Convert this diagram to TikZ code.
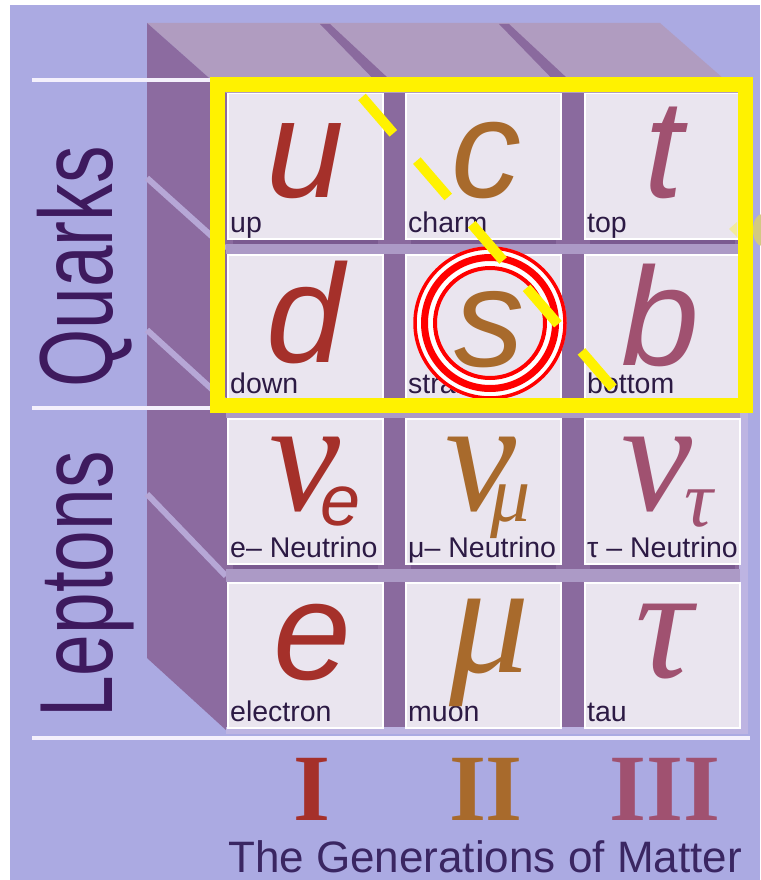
\documentclass[tikz,border=0pt]{standalone}
\usepackage{fontspec}
\setmainfont{Liberation Sans}
\newfontfamily\serifgr{Liberation Serif}
\usepackage{graphicx}
\definecolor{bgl}{HTML}{ABAAE2}
\definecolor{wallc}{HTML}{8C6BA0}
\definecolor{topc}{HTML}{B09CC0}
\definecolor{gapdark}{HTML}{8A6A9E}
\definecolor{gapdeep}{HTML}{7A5A90}
\definecolor{gaplight}{HTML}{AC9AC6}
\definecolor{tilec}{HTML}{EAE5EF}
\definecolor{lblc}{HTML}{2C1A44}
\definecolor{qlc}{HTML}{3E1A5E}
\definecolor{titc}{HTML}{3A2662}
\definecolor{redc}{HTML}{A5302A}
\definecolor{ochc}{HTML}{A86A2C}
\definecolor{rosc}{HTML}{A05170}
\definecolor{grooveL}{HTML}{B6A7D6}
\definecolor{hline}{HTML}{F4F0FC}
\definecolor{edgec}{HTML}{BDB4E2}
\begin{document}
\begin{tikzpicture}[x=1pt,y=-1pt,
  tile/.style={draw=white, line width=1.5pt, fill=tilec, minimum width=155pt, minimum height=145pt, inner sep=0pt, anchor=north west},
  lbl/.style={anchor=base west, inner sep=0pt, text=lblc, font=\fontsize{28.5}{28.5}\selectfont},
  bigL/.style={anchor=base, inner sep=0pt, font=\fontsize{140}{140}\selectfont\itshape},
  grk/.style={anchor=base, inner sep=0pt, font=\serifgr\itshape\fontsize{160}{160}\selectfont},
  sube/.style={anchor=base, inner sep=0pt, font=\itshape\fontsize{72}{72}\selectfont},
  subg/.style={anchor=base, inner sep=0pt, font=\serifgr\itshape\fontsize{80}{80}\selectfont},
  rom/.style={anchor=base, inner sep=0pt, font=\serifgr\bfseries\fontsize{95}{95}\selectfont},
  sidelbl/.style={rotate=90, anchor=base west, inner sep=0pt, text=qlc},
  wline/.style={draw=hline, line width=4pt},
  groove/.style={draw=grooveL, line width=6pt},
  ring/.style={draw=red, fill=none}
]
\useasboundingbox (0,0) rectangle (760,880);
% background
\fill[white] (0,0) rectangle (760,880);
\fill[bgl] (10,5) rectangle (760,880);
% top face
\fill[topc] (147,23) -- (660,23) -- (740,93) -- (226,93) -- cycle;
\fill[gapdark] (320,24) -- (330,24) -- (403,92) -- (386,92) -- cycle;
\fill[gapdark] (499,24) -- (509,24) -- (582,92) -- (565,92) -- cycle;
% left wall
\fill[wallc] (147,23) -- (226,93) -- (226,730) -- (147,658) -- cycle;
\draw[groove] (147,178) -- (226,249);
\draw[groove] (147,330) -- (226,402);
\draw[groove] (147,494) -- (226,576);
% front face
\fill[gapdark] (226,93) rectangle (740,730);
\fill[edgec] (739,93) rectangle (748,733);
\fill[edgec] (226,727) rectangle (748,734);
\foreach \gt/\gb in {238/254, 399/418, 563/582} {
  \fill[gaplight] (226,\gt+6) rectangle (740,\gb);
  \foreach \cl/\cr in {227/382, 405/560, 584/739} {
    \fill[gapdeep] (\cl+6,\gt) rectangle (\cr-4,\gt+6);
  }
}
% white lines
\draw[wline] (32,80) -- (217,80);
\draw[wline] (32,408) -- (217,408);
\draw[wline] (32,738) -- (750,738);
% tiles
\node[tile] (t11) at (227,93) {};
\node[tile] (t12) at (405,93) {};
\node[tile] (t13) at (584,93) {};
\node[tile] (t21) at (227,254) {};
\node[tile] (t22) at (405,254) {};
\node[tile] (t23) at (584,254) {};
\node[tile] (t31) at (227,418) {};
\node[tile] (t32) at (405,418) {};
\node[tile] (t33) at (584,418) {};
\node[tile] (t41) at (227,582) {};
\node[tile] (t42) at (405,582) {};
\node[tile] (t43) at (584,582) {};
% labels
\node[lbl] (l11) at (230,232) {up};
\node[lbl] (l12) at (408,232) {charm};
\node[lbl] (l13) at (587,232) {top};
\node[lbl] (l21) at (230,393) {down};
\node[lbl] (l22) at (408,393) {strange};
\node[lbl] (l23) at (587,393) {bottom};
\node[lbl] (l31) at (230,557) {e– Neutrino};
\node[lbl] (l32) at (408,557) {μ– Neutrino};
\node[lbl] (l33) at (587,557) {τ – Neutrino};
\node[lbl] (l41) at (230,721) {electron};
\node[lbl] (l42) at (408,721) {muon};
\node[lbl] (l43) at (587,721) {tau};
% big letters
\node[bigL, text=redc] (pu) at (305,197) {u};
\node[bigL, text=ochc] (pc) at (486,197) {c};
\node[bigL, text=rosc] (pt) at (664,197) {t};
\node[bigL, text=redc] (pd) at (305,362) {d};
\node[bigL, text=ochc] (ps) at (489,366) {s};
\node[bigL, text=rosc] (pb) at (660,365) {b};
\node[grk, text=redc] (nue) at (305,510) {ν};
\node[sube, text=redc] (nuesub) at (341,525) {e};
\node[grk, text=ochc] (num) at (481,510) {ν};
\node[subg, text=ochc] (numsub) at (511,521) {μ};
\node[grk, text=rosc] (nut) at (657,510) {ν};
\node[subg, text=rosc] (nutsub) at (699,526) {τ};
\node[bigL, text=redc] (pe) at (312,679) {e};
\node[grk, text=ochc] (pmu) at (490,672) {μ};
\node[grk, text=rosc] (ptau) at (664,677) {τ};
% side labels
\node[sidelbl] (quarks) at (112,388) {\scalebox{0.72}[1]{\fontsize{104}{104}\selectfont Quarks}};
\node[sidelbl] (leptons) at (112,718) {\scalebox{0.72}[1]{\fontsize{104}{104}\selectfont Leptons}};
% generations
\node[rom, text=redc] (g1) at (312,820) {I};
\node[rom, text=ochc] (g2) at (486,820) {II};
\node[rom, text=rosc] (g3) at (665,820) {III};
\node[anchor=base, inner sep=0pt, text=titc, font=\fontsize{44}{44}\selectfont] (title) at (485,872) {The Generations of Matter};
% red rings
\coordinate (rc) at (490,323);
\draw[white, line width=22pt] (rc) circle [radius=65.5pt];
\draw[ring, line width=3.5pt] (rc) circle [radius=75pt];
\draw[ring, line width=7pt] (rc) circle [radius=65.5pt];
\draw[ring, line width=4pt] (rc) circle [radius=55pt];
% yellow frame and dashed line
\draw[yellow, line width=15pt] (217,85) rectangle (745,405);
\coordinate (ya) at (362,97);
\coordinate (yb) at (613,388);
\draw[yellow, line width=10pt, dash pattern=on 48pt off 36pt] (ya) -- (yb);
% faint yellow marks at right
\fill[yellow!45!bgl] (762,230) ellipse [x radius=9pt, y radius=16pt];
\fill[yellow!35!tilec] (729,229) -- (737,222) -- (737,237) -- cycle;
\end{tikzpicture}
\end{document}
